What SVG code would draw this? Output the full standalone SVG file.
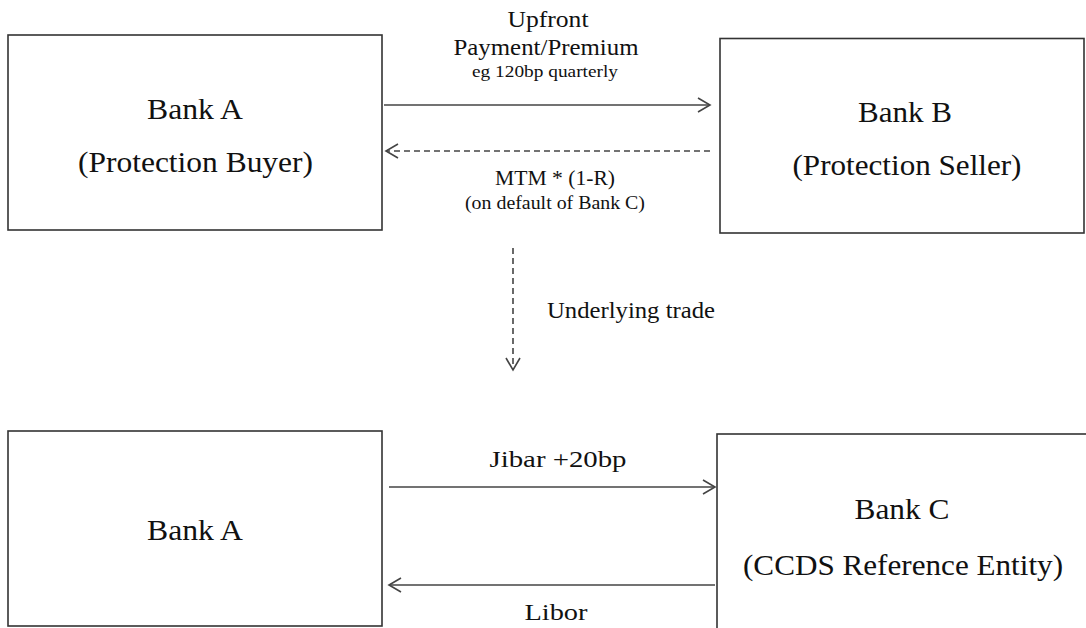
<svg xmlns="http://www.w3.org/2000/svg" width="1086" height="628" viewBox="0 0 1086 628">
<style>
.box{fill:#fff;stroke:#333;stroke-width:1.6}
.t{font-family:"Liberation Serif","Times New Roman",serif;fill:#111}
.big{font-size:30px}
.c{text-anchor:middle}
.ln{stroke:#444;stroke-width:1.6;fill:none}
.dash{stroke-dasharray:6 4}
</style>
<defs>
<marker id="ah" markerUnits="userSpaceOnUse" markerWidth="16" markerHeight="18" refX="13" refY="8" orient="auto">
<path d="M1,1 L13,8 L1,15" fill="none" stroke="#444" stroke-width="1.6"/>
</marker>
</defs>
<rect width="1086" height="628" fill="#fff"/>
<g id="bankA-top">
<rect class="box" x="8" y="35" width="374" height="195"/>
<text class="t big c" x="195" y="119" textLength="96" lengthAdjust="spacingAndGlyphs">Bank A</text>
<text class="t big c" x="195.5" y="172" textLength="235" lengthAdjust="spacingAndGlyphs">(Protection Buyer)</text>
</g>
<g id="bankB">
<rect class="box" x="720" y="38.5" width="364" height="194.5"/>
<text class="t big c" x="905" y="122" textLength="94" lengthAdjust="spacingAndGlyphs">Bank B</text>
<text class="t big c" x="907" y="175" textLength="229" lengthAdjust="spacingAndGlyphs">(Protection Seller)</text>
</g>
<g id="bankA-bottom">
<rect class="box" x="8" y="431" width="374" height="195"/>
<text class="t big c" x="195" y="540" textLength="96" lengthAdjust="spacingAndGlyphs">Bank A</text>
</g>
<g id="bankC">
<rect class="box" x="717" y="434" width="380" height="210"/>
<text class="t big c" x="902" y="519" textLength="95" lengthAdjust="spacingAndGlyphs">Bank C</text>
<text class="t big c" x="903" y="575" textLength="320" lengthAdjust="spacingAndGlyphs">(CCDS Reference Entity)</text>
</g>
<g id="connectors">
<line class="ln" x1="384" y1="105" x2="710" y2="105" marker-end="url(#ah)"/>
<line class="ln dash" x1="710" y1="151" x2="386" y2="151" marker-end="url(#ah)"/>
<line class="ln dash" x1="513" y1="248" x2="513" y2="370" marker-end="url(#ah)"/>
<line class="ln" x1="389" y1="487" x2="715" y2="487" marker-end="url(#ah)"/>
<line class="ln" x1="715" y1="585" x2="389" y2="585" marker-end="url(#ah)"/>
</g>
<g id="labels">
<text class="t c" x="548" y="27" font-size="24" textLength="81" lengthAdjust="spacingAndGlyphs">Upfront</text>
<text class="t c" x="546" y="55" font-size="24" textLength="185" lengthAdjust="spacingAndGlyphs">Payment/Premium</text>
<text class="t c" x="545" y="77" font-size="16.5" textLength="146" lengthAdjust="spacingAndGlyphs">eg 120bp quarterly</text>
<text class="t c" x="555" y="185" font-size="20" textLength="120" lengthAdjust="spacingAndGlyphs">MTM * (1-R)</text>
<text class="t c" x="555" y="209" font-size="18.5" textLength="180" lengthAdjust="spacingAndGlyphs">(on default of Bank C)</text>
<text class="t" x="547" y="318" font-size="23" textLength="168" lengthAdjust="spacingAndGlyphs">Underlying trade</text>
<text class="t c" x="558" y="467" font-size="24" textLength="137" lengthAdjust="spacingAndGlyphs">Jibar +20bp</text>
<text class="t c" x="556" y="620" font-size="24" textLength="63" lengthAdjust="spacingAndGlyphs">Libor</text>
</g>
</svg>
